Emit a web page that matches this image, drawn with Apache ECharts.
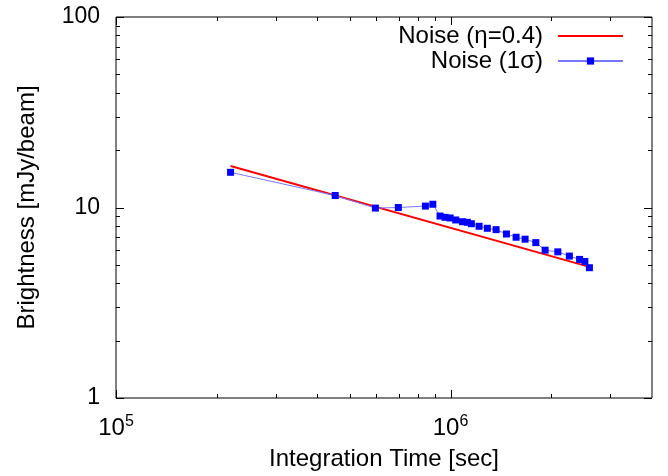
<!DOCTYPE html>
<html>
<head>
<meta charset="utf-8">
<script src="https://cdn.jsdelivr.net/npm/echarts@6/dist/echarts.min.js"></script>
<style>html,body{margin:0;padding:0;background:#fff;}#c{width:668px;height:476px;}</style>
</head>
<body>
<div id="c"></div>
<script>
// Data
var times = [2.20e5, 4.52e5, 5.96e5, 6.98e5, 8.41e5, 8.85e5, 9.30e5, 9.63e5, 9.97e5, 1.036e6,
             1.085e6, 1.122e6, 1.154e6, 1.217e6, 1.288e6, 1.368e6, 1.469e6, 1.570e6, 1.670e6,
             1.798e6, 1.917e6, 2.092e6, 2.265e6, 2.43e6, 2.52e6, 2.60e6];
var noise1s = [15.3, 11.56, 9.93, 10.0, 10.17, 10.4, 9.02, 8.88, 8.81, 8.60,
               8.42, 8.36, 8.22, 7.97, 7.78, 7.65, 7.26, 6.98, 6.82,
               6.54, 5.97, 5.85, 5.56, 5.34, 5.21, 4.83];
var fitTimes = [2.20e5, 2.60e6];
var fitNoise = [16.5, 4.88];
var xMajorTicks = [1e5, 1e6];
var xMinorTicks = [2e5, 3e5, 4e5, 5e5, 6e5, 7e5, 8e5, 9e5, 2e6, 3e6];
var yMajorTicks = [1, 10, 100];
var yMinorTicks = [2, 3, 4, 5, 6, 7, 8, 9, 20, 30, 40, 50, 60, 70, 80, 90];
var seriesNames = ['Noise (\u03b7=0.4)', 'Noise (1\u03c3)'];

var FONT = 'Liberation Sans, Arial, Helvetica, sans-serif';
var chart = echarts.init(document.getElementById('c'), null, {renderer: 'canvas'});

function tickSeries(dim, values, len) {
  return {
    type: 'custom',
    silent: true,
    z: 6,
    data: values.map(function (v) { return dim === 'x' ? [v, 10] : [1e6, v]; }),
    renderItem: function (params, api) {
      var cs = params.coordSys;
      var p = api.coord([api.value(0), api.value(1)]);
      var st = {stroke: '#000', lineWidth: 1};
      if (dim === 'x') {
        var x = Math.round(p[0]) + 0.5;
        return {type: 'group', children: [
          {type: 'line', shape: {x1: x, y1: cs.y + cs.height, x2: x, y2: cs.y + cs.height - len}, style: st},
          {type: 'line', shape: {x1: x, y1: cs.y, x2: x, y2: cs.y + len}, style: st}
        ]};
      } else {
        var y = Math.round(p[1]) + 0.5;
        return {type: 'group', children: [
          {type: 'line', shape: {x1: cs.x, y1: y, x2: cs.x + len, y2: y}, style: st},
          {type: 'line', shape: {x1: cs.x + cs.width, y1: y, x2: cs.x + cs.width - len, y2: y}, style: st}
        ]};
      }
    }
  };
}

function isPow10(v) {
  var e = Math.round(Math.log10(v));
  return Math.abs(v - Math.pow(10, e)) / v < 1e-6;
}

var option = {
  animation: false,
  backgroundColor: '#fff',
  textStyle: {fontFamily: FONT},
  grid: {left: 116, right: 16, top: 17, bottom: 76, show: true, borderColor: '#000', borderWidth: 1, containLabel: false},
  legend: {
    data: [
      {name: seriesNames[0], itemStyle: {opacity: 0}},
      {name: seriesNames[1]}
    ],
    orient: 'vertical',
    align: 'right',
    right: 39,
    top: 19,
    itemWidth: 65,
    itemHeight: 9,
    itemGap: 1,
    textStyle: {fontFamily: FONT, fontSize: 24, color: '#000', padding: [0, 10, 0, 0]},
    selectedMode: false
  },
  xAxis: {
    type: 'log',
    logBase: 10,
    min: 1e5,
    max: 4e6,
    name: 'Integration Time [sec]',
    nameLocation: 'middle',
    nameGap: 49,
    nameTextStyle: {fontFamily: FONT, fontSize: 24, color: '#000'},
    axisLine: {show: false},
    axisTick: {show: false},
    splitLine: {show: false},
    axisLabel: {
      margin: 16,
      color: '#000',
      formatter: function (v) {
        if (!isPow10(v)) return '';
        return '{b|10}{s|' + Math.round(Math.log10(v)) + '}';
      },
      rich: {
        b: {fontFamily: FONT, fontSize: 24, color: '#000'},
        s: {fontFamily: FONT, fontSize: 16, color: '#000', padding: [0, 0, 12, 0]}
      }
    }
  },
  yAxis: {
    type: 'log',
    logBase: 10,
    min: 1,
    max: 100,
    name: 'Brightness [mJy/beam]',
    nameLocation: 'middle',
    nameGap: 77,
    nameTextStyle: {fontFamily: FONT, fontSize: 24, color: '#000'},
    axisLine: {show: false},
    axisTick: {show: false},
    splitLine: {show: false},
    axisLabel: {
      margin: 16,
      color: '#000',
      fontFamily: FONT,
      fontSize: 23,
      formatter: function (v) { return isPow10(v) ? String(Math.round(v)) : ''; }
    }
  },
  series: [
    {
      name: seriesNames[0],
      type: 'line',
      data: fitTimes.map(function (t, i) { return [t, fitNoise[i]]; }),
      symbol: 'none',
      lineStyle: {color: '#ff0000', width: 2},
      itemStyle: {color: '#ff0000'},
      z: 3
    },
    {
      name: seriesNames[1],
      type: 'line',
      data: times.map(function (t, i) { return [t, noise1s[i]]; }),
      symbol: 'rect',
      symbolSize: 7,
      showAllSymbol: true,
      lineStyle: {color: '#7777ff', width: 1},
      itemStyle: {color: '#0000ff'},
      z: 4
    },
    tickSeries('x', xMajorTicks, 8),
    tickSeries('x', xMinorTicks, 4),
    tickSeries('y', yMajorTicks, 8),
    tickSeries('y', yMinorTicks, 4)
  ]
};
chart.setOption(option);
</script>
</body>
</html>
